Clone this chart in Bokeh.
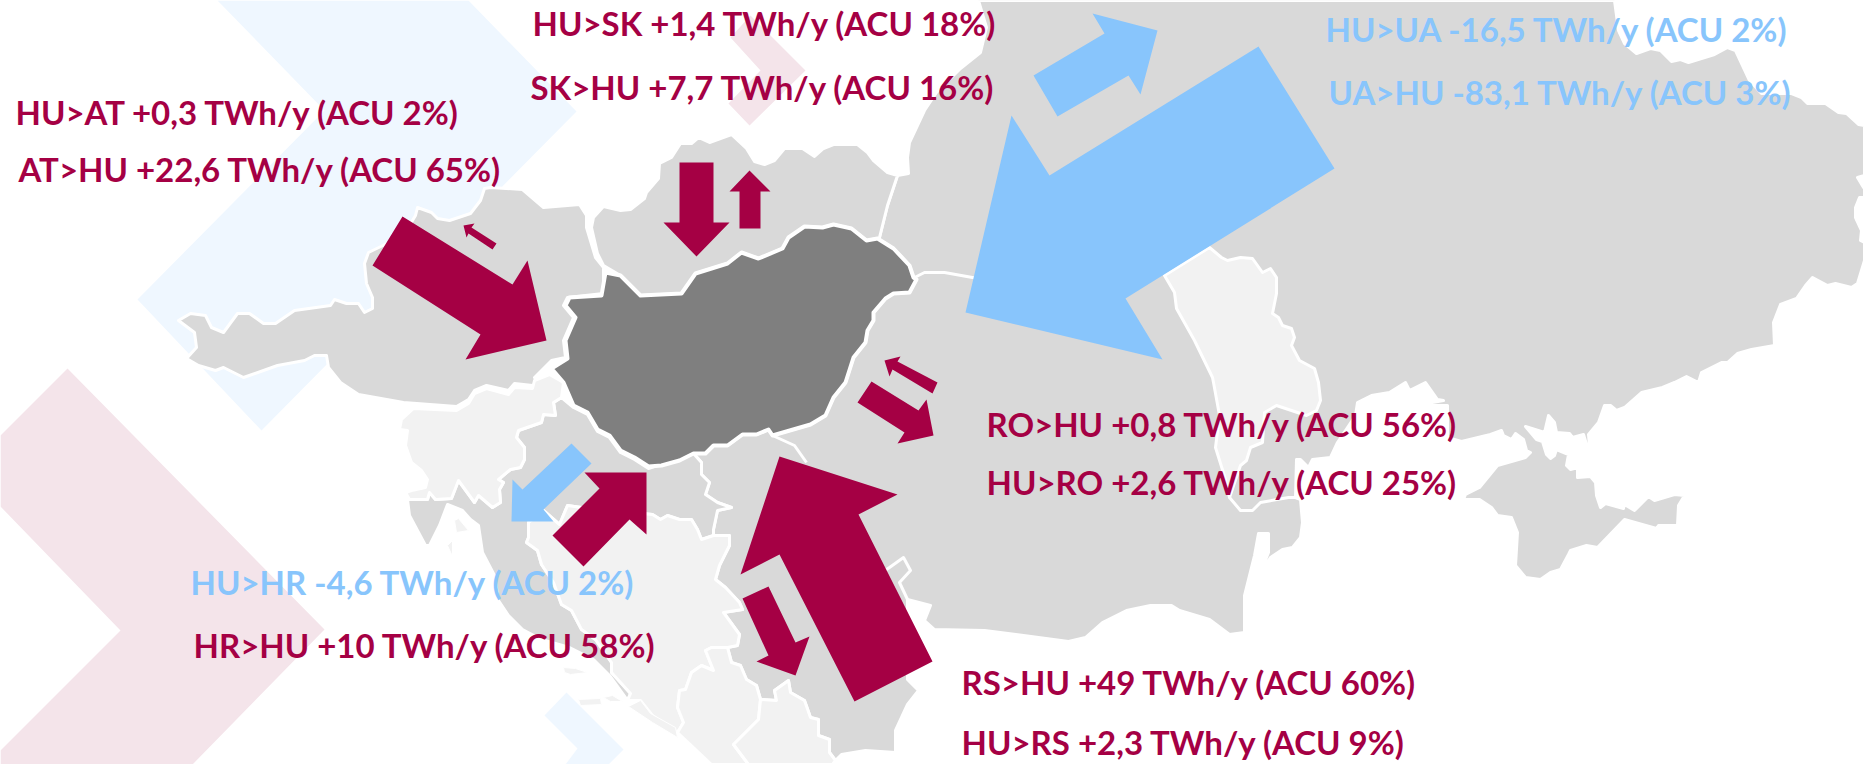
from bokeh.plotting import figure
from bokeh.models import Range1d
from bokeh.core.properties import value
from bokeh.embed import file_html
from bokeh.resources import INLINE

RED = "#A50044"
BLUE = "#88C5FC"
GREY = "#D9D9D9"
LIGHT = "#F2F2F2"
DARK = "#7F7F7F"
PINK_BG = "#F4E4EA"
BLUE_BG = "#EFF7FF"

# ---------- background chevrons ----------
chevron_blue_big = [(217,0),(468,0),(576,111),(261,430),(137,299),(324,110)]
chevron_blue_small = [(566,692),(623,749),(608,764),(565,764),(577,748),(544,715)]
chevron_pink_big = [(0,435),(67,368),(324,629),(192,764),(0,764),(0,750),(120,630),(0,506)]
chevron_pink_small = [(750,15),(805,70),(749,125),(728,103),(760,70),(730,37)]

# ---------- map shapes ----------
east_land = [(978,0),(1614,0),(1618,30),(1624,43),(1636,53),(1650,48),(1660,50),(1671,61),(1680,59),(1688,62),
 (1714,54),(1727,47),(1735,50),(1749,80),(1761,93),(1791,93),(1801,97),(1807,103),(1825,103),(1838,112),(1846,113),
 (1858,124),(1864,125),(1864,175),(1857,177),(1863,187),(1864,188),(1864,197),(1859,197),(1855,207),(1855,217),
 (1861,230),(1860,240),(1864,242),(1864,260),(1857,283),(1851,287),(1835,283),(1827,285),(1812,277),(1805,285),
 (1796,298),(1780,304),(1773,322),(1774,345),(1751,349),(1737,353),(1727,362),(1721,362),(1701,372),(1698,382),
 (1686,376),(1674,382),(1662,387),(1641,392),(1624,407),(1616,410),(1610,405),(1604,405),(1598,422),(1588,434),
 (1590,457),(1583,434),(1572,437),(1569,433),(1556,432),(1554,422),(1548,415),(1544,432),(1525,426),(1536,439),
 (1542,441),(1546,454),(1550,458),(1554,455),(1556,449),(1568,454),(1566,465),(1570,469),(1577,467),(1577,477),
 (1590,476),(1595,482),(1596,495),(1600,507),(1605,503),(1623,508),(1624,504),(1634,510),(1648,496),(1654,500),
 (1674,494),(1684,495),(1678,505),(1677,525),(1658,525),(1656,528),(1624,519),(1597,547),(1586,545),(1570,550),
 (1568,554),(1560,569),(1550,572),(1540,579),(1525,577),(1515,565),(1517,532),(1511,517),(1497,515),(1491,507),
 (1479,499),(1463,499),(1465,494),(1479,487),(1497,465),(1525,457),(1530,452),(1526,450),(1523,439),(1515,433),
 (1511,439),(1503,435),(1501,430),(1490,434),(1461,441),(1447,437),(1447,405),(1415,405),(1443,400),(1437,399),
 (1425,382),(1409,390),(1405,382),(1389,392),(1371,395),(1357,402),(1355,415),(1337,442),(1330,457),(1312,459),
 (1308,467),(1300,459),(1296,459),(1295,497),(1300,499),(1302,522),(1300,537),(1292,547),(1282,549),(1270,557),
 (1260,572),(1268,552),(1268,533),(1258,533),(1254,555),(1248,579),(1244,595),(1244,632),(1229,634),(1209,619),
 (1179,610),(1171,605),(1150,605),(1126,610),(1102,622),(1085,637),(1068,641),(1023,635),(984,630),(934,629),
 (924,620),(930,605),(907,599),(907,679),(918,690),(907,704),(895,730),(895,752),(865,750),(841,754),(835,760),
 (829,752),(829,739),(818,735),(818,719),(810,717),(804,700),(790,692),(788,680),(774,690),(776,700),(760,699),
 (756,685),(746,679),(740,665),(731,662),(727,647),(737,645),(739,634),(723,612),(742,609),(739,602),(725,587),
 (715,579),(719,565),(729,545),(729,535),(713,535),(713,529),(717,510),(731,507),(717,502),(705,494),(709,482),
 (701,474),(701,462),(693,453),(705,453),(713,445),(727,445),(742,434),(756,434),(768,429),(772,435),(810,424),
 (825,415),(833,397),(845,382),(853,357),(865,342),(867,330),(873,320),(873,312),(885,298),(893,293),(909,292),
 (916,279),(913,277),(909,265),(893,248),(877,238),(879,237),(887,205),(897,175),(908,173),(907,157),(909,142),
 (924,110),(936,92),(960,68),(980,52),(986,27)]

slovakia = [(897,175),(887,172),(873,160),(867,152),(857,144),(833,144),(823,148),(814,156),(802,148),(784,148),
 (774,160),(764,164),(754,161),(746,148),(731,134),(709,142),(698,137),(691,143),(680,143),(671,157),(659,163),
 (658,178),(646,192),(644,198),(630,209),(620,210),(603,206),(593,217),(591,227),(597,253),(603,265),(620,275),
 (640,295),(681,293),(695,273),(727,263),(741,252),(758,258),(782,248),(788,237),(804,226),(822,227),(833,224),
 (851,228),(866,240),(877,238),(879,237),(887,205)]

austria = [(490,187),(522,189),(543,207),(579,204),(586,215),(586,227),(595,257),(603,267),(603,293),(567,297),
 (563,305),(573,317),(563,340),(565,357),(551,360),(534,377),(537,382),(532,385),(514,383),(508,390),(486,385),
 (474,390),(468,399),(456,406),(403,402),(358,394),(340,382),(328,367),(326,355),(314,355),(304,360),(277,365),
 (243,377),(223,367),(215,370),(198,365),(186,358),(196,347),(194,332),(178,320),(190,313),(205,315),(211,327),
 (223,332),(237,313),(249,313),(263,323),(275,323),(294,310),(330,305),(334,299),(346,303),(358,303),(364,312),
 (372,308),(372,297),(366,283),(364,263),(368,252),(403,235),(415,215),(417,207),(431,212),(437,218),(449,220),
 (470,213),(480,200),(484,188)]

croatia = [(407,499),(427,499),(429,492),(435,499),(451,498),(458,480),(474,502),(478,495),(492,507),(500,502),
 (499,489),(503,482),(498,479),(510,469),(520,467),(524,459),(524,447),(516,437),(518,430),(541,422),(543,414),
 (555,415),(553,402),(561,397),(573,407),(587,414),(597,431),(609,437),(620,452),(634,459),(648,468),(693,453),
 (701,462),(701,474),(709,482),(705,494),(717,502),(731,507),(717,510),(713,529),(713,535),(701,539),(697,529),
 (691,519),(679,519),(667,515),(660,519),(652,514),(581,507),(567,505),(559,524),(543,510),(528,522),(528,537),
 (526,542),(537,550),(541,564),(553,582),(561,604),(571,610),(581,629),(595,639),(611,662),(611,672),(630,693),
 (627,700),(609,675),(593,659),(569,647),(541,639),(522,629),(508,615),(498,600),(494,575),(482,552),(478,525),
 (470,519),(462,510),(447,504),(439,525),(429,545),(425,545),(409,515)]

bosnia = [(652,514),(660,519),(667,515),(679,519),(691,519),(697,529),(701,539),(713,535),(729,535),(729,545),
 (719,565),(715,579),(725,587),(739,602),(742,609),(723,612),(739,634),(737,645),(727,647),(711,647),(705,650),
 (713,670),(701,665),(691,672),(685,689),(679,690),(677,707),(683,722),(677,732),(652,715),(640,700),(627,700),
 (630,693),(611,672),(611,662),(595,639),(581,629),(571,610),(561,604),(553,582),(541,564),(537,550),(526,542),
 (528,537),(528,522),(543,510),(559,524),(567,505),(581,507)]

montenegro = [(685,689),(691,672),(701,665),(713,670),(705,650),(711,647),(727,647),(731,662),(740,665),(746,679),
 (756,685),(760,699),(758,719),(733,744),(748,764),(711,764),(677,732),(683,722),(677,707),(679,690)]

macedonia = [(760,699),(776,700),(774,690),(788,680),(790,692),(804,700),(810,717),(818,719),(818,735),(829,739),
 (829,752),(835,760),(832,764),(748,764),(733,744),(758,719)]

slovenia = [(413,408),(401,419),(399,429),(407,430),(405,445),(411,462),(421,470),(427,479),(425,487),(411,490),
 (405,492),(409,499),(427,499),(429,492),(435,499),(451,498),(458,480),(474,502),(478,495),(492,507),(500,502),
 (499,489),(503,482),(498,479),(510,469),(520,467),(524,459),(524,447),(516,437),(518,430),(541,422),(543,414),
 (555,415),(553,402),(561,397),(563,382),(549,374),(534,380),(532,388),(514,387),(508,394),(486,388),(474,393),
 (468,403),(456,410)]

moldova = [(1164,275),(1209,247),(1221,257),(1227,260),(1240,257),(1252,258),(1262,272),(1270,268),(1276,277),
 (1276,293),(1272,313),(1278,317),(1282,325),(1291,328),(1294,337),(1291,345),(1299,360),(1314,368),(1318,382),
 (1320,400),(1316,410),(1306,415),(1288,409),(1276,405),(1264,412),(1262,442),(1250,447),(1246,460),(1240,465),
 (1229,497),(1225,479),(1215,447),(1219,415),(1213,382),(1212,377),(1194,340),(1176,308),(1174,292)]

islands = [
 [(563,667),(575,668),(587,672),(570,674),(564,672)],
 [(578,699),(600,698),(601,704),(580,705)],
 [(603,697),(612,695),(622,701),(610,701)],
 [(640,700),(650,713),(675,727),(677,737),(652,722),(628,706)],
 [(454,520),(458,518),(468,530),(456,532)],
 [(447,545),(452,540),(452,556)],
]

hungary = [(605,272),(620,275),(640,295),(681,293),(695,273),(727,263),(741,252),(758,258),(782,248),(788,237),
 (804,226),(822,227),(833,224),(851,228),(866,240),(877,238),(893,248),(909,265),(913,277),(916,279),(909,292),
 (893,293),(885,298),(873,312),(873,320),(867,330),(865,342),(853,357),(845,382),(833,397),(825,415),(810,424),
 (772,435),(768,429),(756,434),(742,434),(727,445),(713,445),(705,453),(693,453),(679,460),(661,465),(648,466),
 (634,457),(620,450),(609,435),(597,429),(587,412),(573,405),(563,382),(551,368),(567,358),(565,340),(575,317),
 (565,305),(569,297),(601,295)]

border_ua_ro_west = [(914,277),(924,272),(944,272),(972,277),(1010,285)]
border_ua_ro_east = [(1229,497),(1240,510),(1252,510),(1260,502),(1288,497),(1295,497)]
border_rs_ro = [(772,435),(794,445),(806,462)]
border_rs_ro_south = [(880,573),(889,567),(903,557),(910,570),(899,582),(907,599)]

# ---------- flow arrows ----------
arrow_at_hu = [(402,216),(372,265),(480,334),(465,359),(546,340),(527,260),(512,284)]
arrow_hu_at = [(496,243),(492,249),(468,233),(466,237),(463,225),(474,223),(471,227)]
arrow_sk_hu = [(679,162),(713,162),(713,222),(729,222),(696,256),(663,222),(679,222)]
arrow_hu_sk = [(749,170),(770,191),(760,191),(760,228),(739,228),(739,191),(729,191)]
arrow_hu_ua = [(1033,75),(1104,33),(1092,13),(1157,30),(1140,94),(1128,75),(1057,116)]
arrow_ua_hu = [(1258,46),(1334,168),(1125,298),(1162,359),(965,312),(1011,115),(1049,175)]
arrow_ro_hu = [(937,382),(932,393),(892,369),(889,376),(884,360),(900,356),(897,361)]
arrow_hu_ro = [(871,381),(857,402),(904,432),(897,443),(933,435),(926,399),(918,410)]
arrow_rs_hu = [(779,456),(897,494),(858,514),(932,661),(854,701),(779,554),(740,574)]
arrow_hu_rs = [(768,586),(795,642),(809,636),(795,675),(756,661),(768,655),(742,598)]
arrow_hu_hr = [(571,443),(591,463),(543,509),(553,521),(511,521),(512,479),(522,489)]
arrow_hr_hu = [(584,472),(646,472),(646,534),(629,519),(583,566),(552,535),(599,488)]

# ---------- labels ----------
label_names = ["HU>AT","AT>HU","HU>SK","SK>HU","HU>UA","UA>HU","RO>HU","HU>RO","HU>HR","HR>HU","RS>HU","HU>RS"]
label_flows = ["+0,3","+22,6","+1,4","+7,7","-16,5","-83,1","+0,8","+2,6","-4,6","+10","+49","+2,3"]
label_acu = ["2%","65%","18%","16%","2%","3%","56%","25%","2%","58%","60%","9%"]
label_x = [15,18,532,530,1325,1328,986,986,190,193,961,961]
label_y = [111,168,22,86,28,91,423,481,581,644,681,741]
label_colors = [RED,RED,RED,RED,BLUE,BLUE,RED,RED,BLUE,RED,RED,RED]
labels = [f"{n} {f} TWh/y (ACU {a})" for n, f, a in zip(label_names, label_flows, label_acu)]

# ---------- figure: 1 data unit = 1 screen pixel ----------
p = figure(width=1864, height=764, output_backend="svg", toolbar_location=None,
           x_range=Range1d(0, 1864), y_range=Range1d(764, 0),
           min_border=0, outline_line_color=None, background_fill_color="white")
p.xaxis.visible = False
p.yaxis.visible = False
p.grid.visible = False


def shapes(polys, fill, line="white", lw=3.0):
    p.patches([[a for a, _ in q] for q in polys], [[b for _, b in q] for q in polys],
              fill_color=fill, line_color=line, line_width=lw, line_join="round")


def border(pts, lw=3.0):
    p.line([a for a, _ in pts], [b for _, b in pts], line_color="white", line_width=lw, line_join="round")


shapes([chevron_blue_big, chevron_blue_small], BLUE_BG, line=None, lw=0)
shapes([chevron_pink_big, chevron_pink_small], PINK_BG, line=None, lw=0)
shapes([east_land, slovakia, austria, croatia], GREY)
shapes([bosnia, montenegro, macedonia, slovenia, moldova], LIGHT)
shapes(islands, LIGHT, lw=1.0)
for b in (border_ua_ro_west, border_ua_ro_east, border_rs_ro, border_rs_ro_south):
    border(b)
shapes([hungary], DARK, lw=4.0)

shapes([arrow_at_hu, arrow_hu_at, arrow_sk_hu, arrow_hu_sk, arrow_ro_hu, arrow_hu_ro,
        arrow_rs_hu, arrow_hu_rs, arrow_hr_hu], RED, line=None, lw=0)
shapes([arrow_hu_ua, arrow_ua_hu, arrow_hu_hr], BLUE, line=None, lw=0)

p.text(x=label_x, y=label_y, text=labels, text_color=label_colors,
       text_font=value("Lato"), text_font_style="bold", text_font_size=value("33px"),
       text_baseline="alphabetic", text_align="left")

open("out.html", "w").write(file_html(p, INLINE))
